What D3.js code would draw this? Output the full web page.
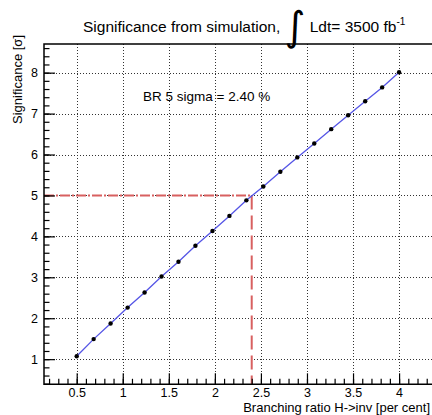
<!DOCTYPE html>
<html><head><meta charset="utf-8">
<script src="https://cdn.jsdelivr.net/npm/d3@7"></script>
<style>
body{margin:0;background:#fff}
svg{display:block}
text{font-family:"Liberation Sans",Arial,Helvetica,sans-serif;fill:#000}
</style>
</head><body>
<svg id="c" width="432" height="415"></svg>
<script>
// ---- data ----
const branchingRatio = [0.5, 0.684, 0.868, 1.053, 1.237, 1.421, 1.605, 1.789, 1.974, 2.158,
                        2.342, 2.526, 2.711, 2.895, 3.079, 3.263, 3.447, 3.632, 3.816, 4.0];
const significance   = [1.07, 1.49, 1.87, 2.26, 2.63, 3.02, 3.38, 3.77, 4.13, 4.50,
                        4.88, 5.22, 5.58, 5.93, 6.27, 6.62, 6.96, 7.30, 7.64, 8.01];
const xTickValues = [0.5, 1, 1.5, 2, 2.5, 3, 3.5, 4];
const xTickLabels = ["0.5", "1", "1.5", "2", "2.5", "3", "3.5", "4"];
const yTickValues = [1, 2, 3, 4, 5, 6, 7, 8];
const yTickLabels = ["1", "2", "3", "4", "5", "6", "7", "8"];
const br5Sigma = 2.40;
const sigmaLevel = 5;

// ---- layout ----
const L = 44, R = 434, T = 44, B = 384.3;
const svg = d3.select("#c");
const x = d3.scaleLinear().domain([0.145, 4.379]).range([L, R]);
const y = d3.scaleLinear().domain([0.386, 8.70]).range([B, T]);

// grid
const grid = svg.append("g").attr("stroke", "#000").attr("stroke-width", 1)
  .attr("stroke-dasharray", "1,2").attr("opacity", 0.8);
grid.selectAll("line.v").data(xTickValues).join("line")
  .attr("x1", d => Math.round(x(d)) + 0.5).attr("x2", d => Math.round(x(d)) + 0.5)
  .attr("y1", T).attr("y2", B);
grid.selectAll("line.h").data(yTickValues).join("line")
  .attr("y1", d => Math.round(y(d)) + 0.5).attr("y2", d => Math.round(y(d)) + 0.5)
  .attr("x1", L).attr("x2", R);

// red marker lines
svg.append("line")
  .attr("x1", L).attr("x2", x(br5Sigma))
  .attr("y1", y(sigmaLevel)).attr("y2", y(sigmaLevel))
  .attr("stroke", "#d86060").attr("stroke-width", 2)
  .attr("stroke-dasharray", "10,2,2,2");
svg.append("line")
  .attr("x1", x(br5Sigma)).attr("x2", x(br5Sigma))
  .attr("y1", y(sigmaLevel)).attr("y2", B)
  .attr("stroke", "#d86060").attr("stroke-width", 2)
  .attr("stroke-dasharray", "14,6");

// data line
const pts = branchingRatio.map((b, i) => [b, significance[i]]);
svg.append("path").datum(pts)
  .attr("fill", "none").attr("stroke", "#5555e6").attr("stroke-width", 1.3)
  .attr("d", d3.line().x(d => x(d[0])).y(d => y(d[1])));
svg.selectAll("circle.pt").data(pts).join("circle")
  .attr("cx", d => x(d[0])).attr("cy", d => y(d[1])).attr("r", 2.2).attr("fill", "#000");

// axes
const fontSize = "12.5px";
const xAxisMajor = d3.axisBottom(x).tickValues(xTickValues)
  .tickFormat((d, i) => xTickLabels[i]).tickSize(-11).tickPadding(4);
const gx = svg.append("g").attr("transform", `translate(0,${B})`).call(xAxisMajor);
const xAxisMinor = d3.axisBottom(x).ticks(40).tickFormat("").tickSize(-5.5);
svg.append("g").attr("transform", `translate(0,${B})`).call(xAxisMinor);

const yAxisMajor = d3.axisLeft(y).tickValues(yTickValues)
  .tickFormat((d, i) => yTickLabels[i]).tickSize(-11).tickPadding(4);
const gy = svg.append("g").attr("transform", `translate(${L},0)`).call(yAxisMajor);
const yAxisMinor = d3.axisLeft(y).ticks(40).tickFormat("").tickSize(-5.5);
svg.append("g").attr("transform", `translate(${L},0)`).call(yAxisMinor);

svg.selectAll(".domain").remove();
svg.selectAll(".tick line").attr("stroke", "#000").attr("stroke-width", 1.2);
svg.selectAll(".tick text").attr("font-size", fontSize)
  .attr("font-family", '"Liberation Sans",Arial,sans-serif');
gy.selectAll(".tick text").attr("dx", "-2");

// frame
svg.append("path")
  .attr("d", `M${R},${T}H${L}V${B}H${R}`)
  .attr("fill", "none").attr("stroke", "#000").attr("stroke-width", 1.5);

// axis titles
svg.append("text").attr("x", 430).attr("y", 412).attr("text-anchor", "end")
  .attr("font-size", "13px").text("Branching ratio H->inv [per cent]");
svg.append("text").attr("transform", "translate(21.5,35) rotate(-90)")
  .attr("text-anchor", "end").attr("font-size", "13px").text("Significance [σ]");

// annotation
svg.append("text").attr("x", 143).attr("y", 101).attr("font-size", "13.5px")
  .text("BR 5 sigma = " + br5Sigma.toFixed(2) + " %");

// title
const title = svg.append("text").attr("x", 83).attr("y", 32).attr("font-size", "15.5px");
title.append("tspan").text("Significance from simulation, ");
title.append("tspan").attr("font-size", "40px").attr("dy", 8).attr("font-family", "DejaVu Sans").text("∫");
title.append("tspan").attr("dy", -8).text(" Ldt= 3500 fb");
title.append("tspan").attr("dy", -7).attr("font-size", "10px").text("-1");
</script>
</body></html>
